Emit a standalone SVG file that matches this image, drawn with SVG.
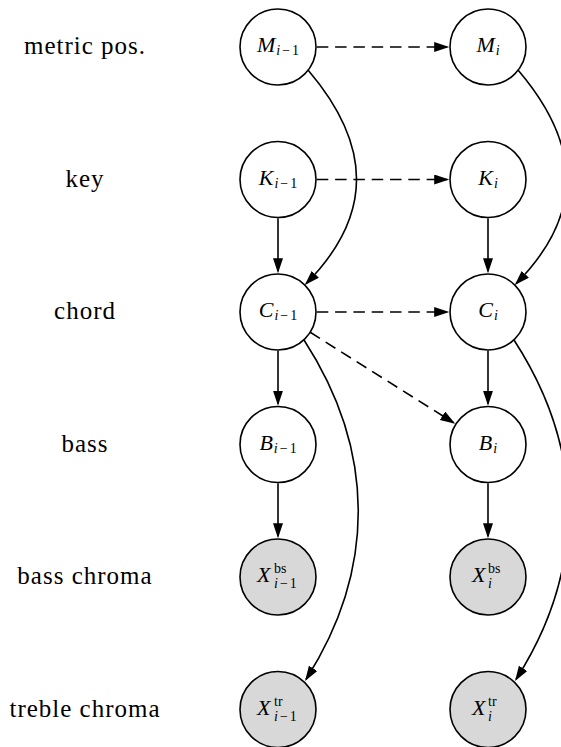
<svg xmlns="http://www.w3.org/2000/svg" width="561" height="747" viewBox="0 0 561 747">
  <style>
    .node { stroke: #000; stroke-width: 1.6; fill: #fff; }
    .obs { fill: #d8d8d8; }
    .edge { fill: none; stroke: #000; stroke-width: 1.6; marker-end: url(#arrow); }
    .dash { stroke-dasharray: 11.5 6.8; }
    .lbl { font-family: "Liberation Serif", "Times New Roman", serif; font-size: 25px; letter-spacing: 1px; text-anchor: middle; fill: #000; }
    .v { font-family: "Liberation Serif", "Times New Roman", serif; font-style: italic; font-size: 22px; fill: #000; }
    .mid { text-anchor: middle; }
    .s { font-size: 14px; }
    .n { font-style: normal; }
  </style>
  <defs>
    <marker id="arrow" markerUnits="userSpaceOnUse" markerWidth="16" markerHeight="12" refX="13" refY="5" orient="auto">
      <path d="M0,0 L15,5 L0,10 Z" fill="#000" stroke="none"/>
    </marker>
  </defs>

  <!-- row labels -->
  <g id="labels">
    <text class="lbl" x="85" y="54">metric pos.</text>
    <text class="lbl" x="85" y="186.5">key</text>
    <text class="lbl" x="85" y="319">chord</text>
    <text class="lbl" x="85" y="451.5">bass</text>
    <text class="lbl" x="85" y="584">bass chroma</text>
    <text class="lbl" x="85" y="716.5">treble chroma</text>
  </g>

  <!-- connectors -->
  <g id="edges">
    <!-- temporal (dashed) -->
    <path class="edge dash" d="M316.8,47 L447.2,47"/>
    <path class="edge dash" d="M316.8,179.5 L447.2,179.5"/>
    <path class="edge dash" d="M316.8,312 L447.2,312"/>
    <path class="edge dash" d="M310.2,332.3 L453.5,422.7"/>
    <!-- within slice, straight -->
    <path class="edge" d="M278,218.3 L278,271.2"/>
    <path class="edge" d="M488,218.3 L488,271.2"/>
    <path class="edge" d="M278,350.8 L278,403.7"/>
    <path class="edge" d="M488,350.8 L488,403.7"/>
    <path class="edge" d="M278,483.3 L278,536.2"/>
    <path class="edge" d="M488,483.3 L488,536.2"/>
    <!-- metric position to chord -->
    <path class="edge" d="M308,70 C372,145 374,215 306.2,283.6"/>
    <path class="edge" d="M518,70 C582,145 584,215 516.2,283.6"/>
    <!-- chord to treble chroma -->
    <path class="edge" d="M304,340 C376,451 376,570 306.1,679.3"/>
    <path class="edge" d="M514,340 C586,451 586,570 516.1,679.3"/>
  </g>

  <!-- slice i-1 -->
  <g id="M_prev">
    <circle class="node" cx="278" cy="47" r="38"/>
    <text class="v mid" x="278" y="52">M<tspan class="s" dx="1" dy="3">i</tspan><tspan class="s n" dx="2">−</tspan><tspan class="s n" dx="2">1</tspan></text>
  </g>
  <g id="K_prev">
    <circle class="node" cx="278" cy="179.5" r="38"/>
    <text class="v mid" x="278" y="184.5">K<tspan class="s" dx="1" dy="3">i</tspan><tspan class="s n" dx="2">−</tspan><tspan class="s n" dx="2">1</tspan></text>
  </g>
  <g id="C_prev">
    <circle class="node" cx="278" cy="312" r="38"/>
    <text class="v mid" x="278" y="317">C<tspan class="s" dx="1" dy="3">i</tspan><tspan class="s n" dx="2">−</tspan><tspan class="s n" dx="2">1</tspan></text>
  </g>
  <g id="B_prev">
    <circle class="node" cx="278" cy="444.5" r="38"/>
    <text class="v mid" x="278" y="449.5">B<tspan class="s" dx="1" dy="3">i</tspan><tspan class="s n" dx="2">−</tspan><tspan class="s n" dx="2">1</tspan></text>
  </g>
  <g id="Xbs_prev">
    <circle class="node obs" cx="278" cy="577" r="38"/>
    <text class="v" x="257" y="582">X</text>
    <text class="v s n" x="274" y="573">bs</text>
    <text class="v s" x="274" y="588">i<tspan class="n" dx="2">−</tspan><tspan class="n" dx="2">1</tspan></text>
  </g>
  <g id="Xtr_prev">
    <circle class="node obs" cx="278" cy="709.5" r="38"/>
    <text class="v" x="257" y="714.5">X</text>
    <text class="v s n" x="274" y="705.5">tr</text>
    <text class="v s" x="274" y="720.5">i<tspan class="n" dx="2">−</tspan><tspan class="n" dx="2">1</tspan></text>
  </g>

  <!-- slice i -->
  <g id="M_cur">
    <circle class="node" cx="488" cy="47" r="38"/>
    <text class="v mid" x="488" y="52">M<tspan class="s" dx="1" dy="3">i</tspan></text>
  </g>
  <g id="K_cur">
    <circle class="node" cx="488" cy="179.5" r="38"/>
    <text class="v mid" x="488" y="184.5">K<tspan class="s" dx="1" dy="3">i</tspan></text>
  </g>
  <g id="C_cur">
    <circle class="node" cx="488" cy="312" r="38"/>
    <text class="v mid" x="488" y="317">C<tspan class="s" dx="1" dy="3">i</tspan></text>
  </g>
  <g id="B_cur">
    <circle class="node" cx="488" cy="444.5" r="38"/>
    <text class="v mid" x="488" y="449.5">B<tspan class="s" dx="1" dy="3">i</tspan></text>
  </g>
  <g id="Xbs_cur">
    <circle class="node obs" cx="488" cy="577" r="38"/>
    <text class="v" x="472" y="582">X</text>
    <text class="v s n" x="488" y="573">bs</text>
    <text class="v s" x="488" y="588">i</text>
  </g>
  <g id="Xtr_cur">
    <circle class="node obs" cx="488" cy="709.5" r="38"/>
    <text class="v" x="472" y="714.5">X</text>
    <text class="v s n" x="488" y="705.5">tr</text>
    <text class="v s" x="488" y="720.5">i</text>
  </g>
</svg>
